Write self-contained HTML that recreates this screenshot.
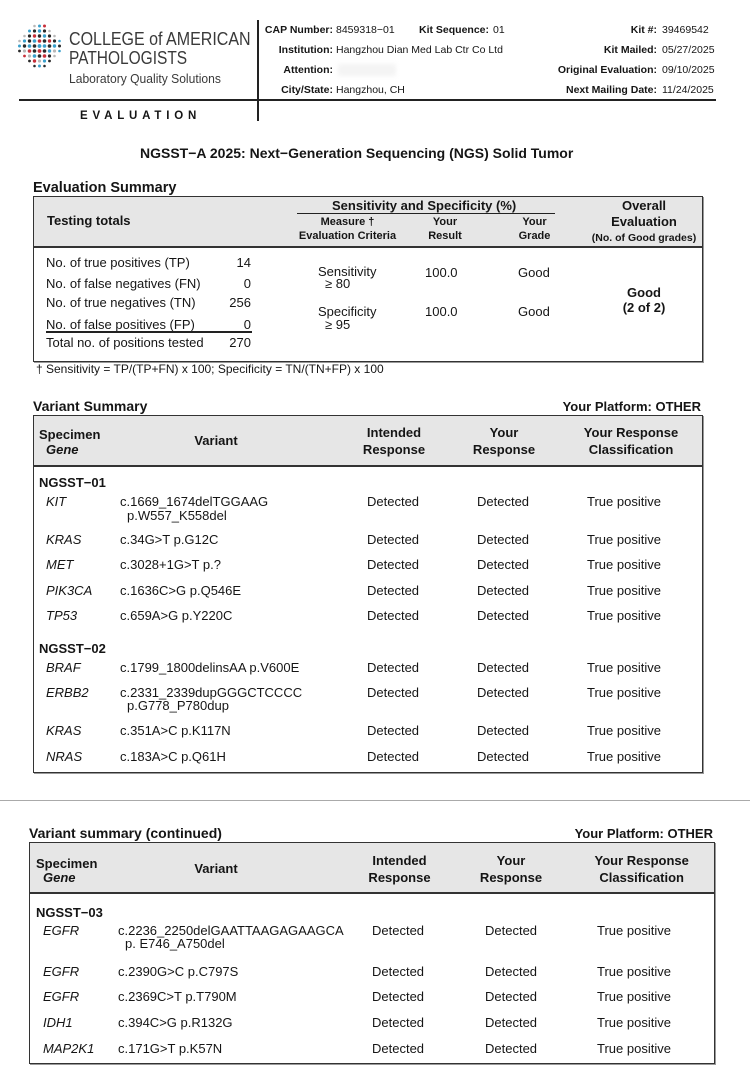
<!DOCTYPE html>
<html><head><meta charset="utf-8"><style>
*{margin:0;padding:0;box-sizing:border-box}
body{width:750px;height:1074px;background:#fff;position:relative;overflow:hidden;font-family:"Liberation Sans",Arial,sans-serif;color:#151515}
.t{position:absolute;white-space:nowrap;line-height:1}
.b{font-weight:bold}
.i{font-style:italic}
.f13{font-size:13px}
.f14{font-size:14px}
.f11{font-size:11px}
.f105{font-size:10.5px}
.c{transform:translateX(-50%)}
.r{transform:translateX(-100%)}
.box{position:absolute;border:1px solid #333;box-shadow:1px 1px 0 #999}
.hd{position:absolute;left:0;right:0;top:0;background:#e6e6e6;border-bottom:2px solid #333}
.line{position:absolute;background:#222}
</style></head><body>

<svg style="position:absolute;left:0;top:0" width="70" height="80" viewBox="0 0 70 80">
<g>
<circle cx="34.5" cy="26" r="1.3" fill="#b8b8b8"/><circle cx="39.5" cy="26" r="1.5" fill="#3aa0cc"/><circle cx="44.5" cy="26" r="1.5" fill="#c8303a"/>
<circle cx="29.5" cy="31" r="1.5" fill="#3aa0cc"/><circle cx="34.5" cy="31" r="1.6" fill="#2a2a2a"/><circle cx="39.5" cy="31" r="1.7" fill="#3aa0cc"/><circle cx="44.5" cy="31" r="1.6" fill="#2a2a2a"/><circle cx="49.5" cy="31" r="1.3" fill="#b8b8b8"/>
<circle cx="24.5" cy="36" r="1.3" fill="#b8b8b8"/><circle cx="29.5" cy="36" r="1.6" fill="#2a2a2a"/><circle cx="34.5" cy="36" r="1.7" fill="#c8303a"/><circle cx="39.5" cy="36" r="1.7" fill="#2a2a2a"/><circle cx="44.5" cy="36" r="1.7" fill="#3aa0cc"/><circle cx="49.5" cy="36" r="1.6" fill="#2a2a2a"/><circle cx="54.5" cy="36" r="1.3" fill="#b8b8b8"/>
<circle cx="19.5" cy="41" r="1.3" fill="#b8b8b8"/><circle cx="24.5" cy="41" r="1.6" fill="#3aa0cc"/><circle cx="29.5" cy="41" r="1.7" fill="#2a2a2a"/><circle cx="34.5" cy="41" r="1.8" fill="#3aa0cc"/><circle cx="39.5" cy="41" r="1.8" fill="#c8303a"/><circle cx="44.5" cy="41" r="1.8" fill="#2a2a2a"/><circle cx="49.5" cy="41" r="1.7" fill="#c8303a"/><circle cx="54.5" cy="41" r="1.6" fill="#2a2a2a"/><circle cx="59.5" cy="41" r="1.3" fill="#3aa0cc"/>
<circle cx="19.5" cy="46" r="1.5" fill="#3aa0cc"/><circle cx="24.5" cy="46" r="1.7" fill="#2a2a2a"/><circle cx="29.5" cy="46" r="1.8" fill="#3aa0cc"/><circle cx="34.5" cy="46" r="1.8" fill="#2a2a2a"/><circle cx="39.5" cy="46" r="1.9" fill="#3aa0cc"/><circle cx="44.5" cy="46" r="1.8" fill="#3aa0cc"/><circle cx="49.5" cy="46" r="1.8" fill="#2a2a2a"/><circle cx="54.5" cy="46" r="1.7" fill="#3aa0cc"/><circle cx="59.5" cy="46" r="1.5" fill="#2a2a2a"/>
<circle cx="19.5" cy="51" r="1.4" fill="#2a2a2a"/><circle cx="24.5" cy="51" r="1.6" fill="#b8b8b8"/><circle cx="29.5" cy="51" r="1.8" fill="#c8303a"/><circle cx="34.5" cy="51" r="1.8" fill="#2a2a2a"/><circle cx="39.5" cy="51" r="1.9" fill="#c8303a"/><circle cx="44.5" cy="51" r="1.8" fill="#2a2a2a"/><circle cx="49.5" cy="51" r="1.7" fill="#3aa0cc"/><circle cx="54.5" cy="51" r="1.6" fill="#b8b8b8"/><circle cx="59.5" cy="51" r="1.3" fill="#3aa0cc"/>
<circle cx="24.5" cy="56" r="1.4" fill="#c8303a"/><circle cx="29.5" cy="56" r="1.6" fill="#b8b8b8"/><circle cx="34.5" cy="56" r="1.8" fill="#3aa0cc"/><circle cx="39.5" cy="56" r="1.8" fill="#2a2a2a"/><circle cx="44.5" cy="56" r="1.8" fill="#c8303a"/><circle cx="49.5" cy="56" r="1.6" fill="#2a2a2a"/><circle cx="54.5" cy="56" r="1.3" fill="#b8b8b8"/>
<circle cx="29.5" cy="61" r="1.4" fill="#2a2a2a"/><circle cx="34.5" cy="61" r="1.7" fill="#c8303a"/><circle cx="39.5" cy="61" r="1.6" fill="#b8b8b8"/><circle cx="44.5" cy="61" r="1.6" fill="#3aa0cc"/><circle cx="49.5" cy="61" r="1.4" fill="#2a2a2a"/>
<circle cx="34.5" cy="66" r="1.3" fill="#2a2a2a"/><circle cx="39.5" cy="66" r="1.5" fill="#3aa0cc"/><circle cx="44.5" cy="66" r="1.3" fill="#2a2a2a"/>
</g></svg>

<div class="t" style="left:69px;top:29.7px;font-size:18px;color:#3a3a3a;transform:scaleX(0.89);transform-origin:left">COLLEGE of AMERICAN</div>
<div class="t" style="left:69px;top:48.7px;font-size:18px;color:#3a3a3a;transform:scaleX(0.86);transform-origin:left">PATHOLOGISTS</div>
<div class="t" style="left:69px;top:72.3px;font-size:13px;color:#3a3a3a;transform:scaleX(0.93);transform-origin:left">Laboratory Quality Solutions</div>

<div class="line" style="left:19px;top:99px;width:697px;height:2px"></div>
<div class="line" style="left:257px;top:20px;width:2px;height:101px"></div>
<div class="t b" style="left:80px;top:111px;font-size:11.5px;letter-spacing:4.8px">EVALUATION</div>

<div class="t b f105 r" style="left:333px;top:25.4px">CAP Number:</div>
<div class="t f105" style="left:336px;top:25.4px">8459318−01</div>
<div class="t b f105" style="left:419px;top:25.4px">Kit Sequence:</div>
<div class="t f105" style="left:493px;top:25.4px">01</div>
<div class="t b f105 r" style="left:333px;top:45.4px">Institution:</div>
<div class="t f105" style="left:336px;top:45.4px">Hangzhou Dian Med Lab Ctr Co Ltd</div>
<div class="t b f105 r" style="left:333px;top:65.4px">Attention:</div>
<div style="position:absolute;left:338px;top:64px;width:58px;height:12px;background:#f4f4f4;filter:blur(2px)"></div>
<div class="t b f105 r" style="left:333px;top:85.4px">City/State:</div>
<div class="t f105" style="left:336px;top:85.4px">Hangzhou, CH</div>

<div class="t b f105 r" style="left:657px;top:25.4px">Kit #:</div>
<div class="t f105" style="left:662px;top:25.4px">39469542</div>
<div class="t b f105 r" style="left:657px;top:45.4px">Kit Mailed:</div>
<div class="t f105" style="left:662px;top:45.4px">05/27/2025</div>
<div class="t b f105 r" style="left:657px;top:65.4px">Original Evaluation:</div>
<div class="t f105" style="left:662px;top:65.4px">09/10/2025</div>
<div class="t b f105 r" style="left:657px;top:85.4px">Next Mailing Date:</div>
<div class="t f105" style="left:662px;top:85.4px">11/24/2025</div>

<div class="t b" style="left:140px;top:146.4px;font-size:14px">NGSST−A 2025: Next−Generation Sequencing (NGS) Solid Tumor</div>

<!-- Evaluation Summary -->
<div class="t b" style="left:33px;top:181px;font-size:14.5px">Evaluation Summary</div>
<div class="box" style="left:33px;top:196px;width:670px;height:166px">
  <div class="hd" style="height:51px"></div>
</div>
<div class="t b f13" style="left:47px;top:213.6px">Testing totals</div>
<div class="t b f13" style="left:332px;top:199.4px">Sensitivity and Specificity (%)</div>
<div class="line" style="left:297px;top:212.5px;width:258px;height:1px"></div>
<div class="t b f11 c" style="left:347.5px;top:217.3px">Measure †</div>
<div class="t b f11 c" style="left:347.5px;top:231.3px">Evaluation Criteria</div>
<div class="t b f11 c" style="left:445px;top:217.3px">Your</div>
<div class="t b f11 c" style="left:445px;top:231.3px">Result</div>
<div class="t b f11 c" style="left:534.5px;top:217.3px">Your</div>
<div class="t b f11 c" style="left:534.5px;top:231.3px">Grade</div>
<div class="t b f13 c" style="left:644px;top:199.4px">Overall</div>
<div class="t b f13 c" style="left:644px;top:214.6px">Evaluation</div>
<div class="t b f105 c" style="left:644px;top:232.6px">(No. of Good grades)</div>

<div class="t f13" style="left:46px;top:256.3px">No. of true positives (TP)</div>
<div class="t f13 r" style="left:251px;top:256.3px">14</div>
<div class="t f13" style="left:46px;top:277px">No. of false negatives (FN)</div>
<div class="t f13 r" style="left:251px;top:277px">0</div>
<div class="t f13" style="left:46px;top:296.3px">No. of true negatives (TN)</div>
<div class="t f13 r" style="left:251px;top:296.3px">256</div>
<div class="t f13" style="left:46px;top:317.6px">No. of false positives (FP)</div>
<div class="t f13 r" style="left:251px;top:317.6px">0</div>
<div class="line" style="left:46px;top:331px;width:206px;height:1.5px"></div>
<div class="t f13" style="left:46px;top:336.3px">Total no. of positions tested</div>
<div class="t f13 r" style="left:251px;top:336.3px">270</div>

<div class="t f13" style="left:318px;top:265.3px">Sensitivity</div>
<div class="t f13" style="left:325px;top:277px">≥ 80</div>
<div class="t f13" style="left:318px;top:304.6px">Specificity</div>
<div class="t f13" style="left:325px;top:317.6px">≥ 95</div>
<div class="t f13" style="left:425px;top:265.6px">100.0</div>
<div class="t f13" style="left:425px;top:305px">100.0</div>
<div class="t f13" style="left:518px;top:265.6px">Good</div>
<div class="t f13" style="left:518px;top:305px">Good</div>
<div class="t b f13 c" style="left:644px;top:286px">Good</div>
<div class="t b f13 c" style="left:644px;top:301.4px">(2 of 2)</div>

<div class="t" style="left:36px;top:363.4px;font-size:12px">† Sensitivity = TP/(TP+FN) x 100; Specificity = TN/(TN+FP) x 100</div>

<!-- Variant Summary -->
<div class="t b f14" style="left:33px;top:398.9px">Variant Summary</div>
<div class="t b f13 r" style="left:701px;top:400.3px">Your Platform: OTHER</div>
<div class="box" style="left:33px;top:415px;width:670px;height:358px">
  <div class="hd" style="height:51px"></div>
</div>
<div class="t b f13" style="left:39px;top:428px">Specimen</div>
<div class="t b i f13" style="left:46px;top:442.7px">Gene</div>
<div class="t b f13 c" style="left:216px;top:433.7px">Variant</div>
<div class="t b f13 c" style="left:394px;top:426px">Intended</div>
<div class="t b f13 c" style="left:394px;top:443px">Response</div>
<div class="t b f13 c" style="left:504px;top:426px">Your</div>
<div class="t b f13 c" style="left:504px;top:443px">Response</div>
<div class="t b f13 c" style="left:631px;top:426px">Your Response</div>
<div class="t b f13 c" style="left:631px;top:443px">Classification</div>

<div class="t b f13" style="left:39px;top:476.3px">NGSST−01</div>
<div class="t i f13" style="left:46px;top:494.7px">KIT</div>
<div class="t f13" style="left:120px;top:494.7px">c.1669_1674delTGGAAG</div>
<div class="t f13" style="left:127px;top:508.7px">p.W557_K558del</div>
<div class="t f13" style="left:367px;top:494.7px">Detected</div>
<div class="t f13" style="left:477px;top:494.7px">Detected</div>
<div class="t f13" style="left:587px;top:494.7px">True positive</div>

<div class="t i f13" style="left:46px;top:532.7px">KRAS</div>
<div class="t f13" style="left:120px;top:532.7px">c.34G&gt;T p.G12C</div>
<div class="t f13" style="left:367px;top:532.7px">Detected</div>
<div class="t f13" style="left:477px;top:532.7px">Detected</div>
<div class="t f13" style="left:587px;top:532.7px">True positive</div>

<div class="t i f13" style="left:46px;top:558px">MET</div>
<div class="t f13" style="left:120px;top:558px">c.3028+1G&gt;T p.?</div>
<div class="t f13" style="left:367px;top:558px">Detected</div>
<div class="t f13" style="left:477px;top:558px">Detected</div>
<div class="t f13" style="left:587px;top:558px">True positive</div>

<div class="t i f13" style="left:46px;top:583.7px">PIK3CA</div>
<div class="t f13" style="left:120px;top:583.7px">c.1636C&gt;G p.Q546E</div>
<div class="t f13" style="left:367px;top:583.7px">Detected</div>
<div class="t f13" style="left:477px;top:583.7px">Detected</div>
<div class="t f13" style="left:587px;top:583.7px">True positive</div>

<div class="t i f13" style="left:46px;top:608.7px">TP53</div>
<div class="t f13" style="left:120px;top:608.7px">c.659A&gt;G p.Y220C</div>
<div class="t f13" style="left:367px;top:608.7px">Detected</div>
<div class="t f13" style="left:477px;top:608.7px">Detected</div>
<div class="t f13" style="left:587px;top:608.7px">True positive</div>

<div class="t b f13" style="left:39px;top:642px">NGSST−02</div>
<div class="t i f13" style="left:46px;top:661.3px">BRAF</div>
<div class="t f13" style="left:120px;top:661.3px">c.1799_1800delinsAA p.V600E</div>
<div class="t f13" style="left:367px;top:661.3px">Detected</div>
<div class="t f13" style="left:477px;top:661.3px">Detected</div>
<div class="t f13" style="left:587px;top:661.3px">True positive</div>

<div class="t i f13" style="left:46px;top:686px">ERBB2</div>
<div class="t f13" style="left:120px;top:686px">c.2331_2339dupGGGCTCCCC</div>
<div class="t f13" style="left:127px;top:699.3px">p.G778_P780dup</div>
<div class="t f13" style="left:367px;top:686px">Detected</div>
<div class="t f13" style="left:477px;top:686px">Detected</div>
<div class="t f13" style="left:587px;top:686px">True positive</div>

<div class="t i f13" style="left:46px;top:724.3px">KRAS</div>
<div class="t f13" style="left:120px;top:724.3px">c.351A&gt;C p.K117N</div>
<div class="t f13" style="left:367px;top:724.3px">Detected</div>
<div class="t f13" style="left:477px;top:724.3px">Detected</div>
<div class="t f13" style="left:587px;top:724.3px">True positive</div>

<div class="t i f13" style="left:46px;top:749.7px">NRAS</div>
<div class="t f13" style="left:120px;top:749.7px">c.183A&gt;C p.Q61H</div>
<div class="t f13" style="left:367px;top:749.7px">Detected</div>
<div class="t f13" style="left:477px;top:749.7px">Detected</div>
<div class="t f13" style="left:587px;top:749.7px">True positive</div>

<!-- page separator -->
<div style="position:absolute;left:0;top:800px;width:750px;height:1px;background:#aaa"></div>

<!-- continued -->
<div class="t b f14" style="left:29px;top:825.9px">Variant summary (continued)</div>
<div class="t b f13 r" style="left:713px;top:827px">Your Platform: OTHER</div>
<div class="box" style="left:29px;top:842px;width:686px;height:222px">
  <div class="hd" style="height:51px"></div>
</div>
<div class="t b f13" style="left:36px;top:857px">Specimen</div>
<div class="t b i f13" style="left:43px;top:871.4px">Gene</div>
<div class="t b f13 c" style="left:216px;top:861.7px">Variant</div>
<div class="t b f13 c" style="left:399.5px;top:853.7px">Intended</div>
<div class="t b f13 c" style="left:399.5px;top:871.4px">Response</div>
<div class="t b f13 c" style="left:511px;top:853.7px">Your</div>
<div class="t b f13 c" style="left:511px;top:871.4px">Response</div>
<div class="t b f13 c" style="left:641.7px;top:853.7px">Your Response</div>
<div class="t b f13 c" style="left:641.7px;top:871.4px">Classification</div>

<div class="t b f13" style="left:36px;top:906px">NGSST−03</div>
<div class="t i f13" style="left:43px;top:924.4px">EGFR</div>
<div class="t f13" style="left:118px;top:924.4px">c.2236_2250delGAATTAAGAGAAGCA</div>
<div class="t f13" style="left:125px;top:937px">p. E746_A750del</div>
<div class="t f13" style="left:372px;top:924.4px">Detected</div>
<div class="t f13" style="left:485px;top:924.4px">Detected</div>
<div class="t f13" style="left:597px;top:924.4px">True positive</div>

<div class="t i f13" style="left:43px;top:965.4px">EGFR</div>
<div class="t f13" style="left:118px;top:965.4px">c.2390G&gt;C p.C797S</div>
<div class="t f13" style="left:372px;top:965.4px">Detected</div>
<div class="t f13" style="left:485px;top:965.4px">Detected</div>
<div class="t f13" style="left:597px;top:965.4px">True positive</div>

<div class="t i f13" style="left:43px;top:990.4px">EGFR</div>
<div class="t f13" style="left:118px;top:990.4px">c.2369C&gt;T p.T790M</div>
<div class="t f13" style="left:372px;top:990.4px">Detected</div>
<div class="t f13" style="left:485px;top:990.4px">Detected</div>
<div class="t f13" style="left:597px;top:990.4px">True positive</div>

<div class="t i f13" style="left:43px;top:1016px">IDH1</div>
<div class="t f13" style="left:118px;top:1016px">c.394C&gt;G p.R132G</div>
<div class="t f13" style="left:372px;top:1016px">Detected</div>
<div class="t f13" style="left:485px;top:1016px">Detected</div>
<div class="t f13" style="left:597px;top:1016px">True positive</div>

<div class="t i f13" style="left:43px;top:1042px">MAP2K1</div>
<div class="t f13" style="left:118px;top:1042px">c.171G&gt;T p.K57N</div>
<div class="t f13" style="left:372px;top:1042px">Detected</div>
<div class="t f13" style="left:485px;top:1042px">Detected</div>
<div class="t f13" style="left:597px;top:1042px">True positive</div>

</body></html>
